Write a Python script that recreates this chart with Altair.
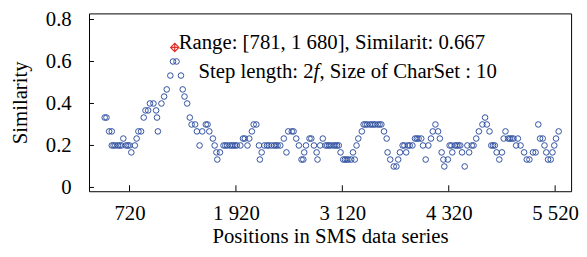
import altair as alt
import pandas as pd

# ---- data ----
positions = [
    440, 460, 490, 520, 520, 540, 560, 590, 610, 630,
    650, 680, 700, 720, 740, 780, 800, 820, 850, 880,
    900, 930, 950, 990, 1020, 1030, 1040, 1080, 1110, 1140,
    1180, 1210, 1250, 1300, 1320, 1340, 1370, 1400, 1420, 1460,
    1480, 1510, 1540, 1580, 1600, 1620, 1660, 1680, 1700, 1710,
    1740, 1780, 1800, 1820, 1850, 1870, 1890, 1910, 1930, 1970,
    2000, 2020, 2050, 2070, 2100, 2120, 2150, 2180, 2190, 2210,
    2240, 2270, 2290, 2320, 2350, 2370, 2390, 2420, 2460, 2490,
    2510, 2550, 2570, 2600, 2630, 2660, 2680, 2690, 2710, 2750,
    2770, 2800, 2830, 2840, 2870, 2900, 2930, 2950, 2970, 2990,
    3020, 3040, 3060, 3080, 3100, 3130, 3150, 3170, 3190, 3220,
    3240, 3260, 3280, 3300, 3340, 3360, 3380, 3400, 3430, 3450,
    3470, 3490, 3520, 3540, 3560, 3590, 3620, 3630, 3660, 3700,
    3730, 3750, 3770, 3800, 3820, 3840, 3860, 3880, 3910, 3940,
    3960, 3980, 4010, 4030, 4060, 4090, 4120, 4140, 4170, 4200,
    4220, 4240, 4260, 4270, 4310, 4330, 4350, 4360, 4390, 4410,
    4430, 4450, 4470, 4500, 4530, 4550, 4580, 4600, 4630, 4660,
    4700, 4730, 4750, 4780, 4800, 4820, 4840, 4860, 4890, 4920,
    4940, 4960, 4990, 5010, 5030, 5050, 5080, 5100, 5130, 5170,
    5200, 5230, 5270, 5300, 5330, 5350, 5380, 5400, 5420, 5440,
    5470, 5490, 5510, 5530, 5560,
]
similarity = [
    .333, .333, .267, .267, .2, .2, .2, .2, .2, .2,
    .233, .2, .2, .2, .167, .2, .233, .267, .267, .333,
    .367, .367, .4, .4, .367, .333, .267, .4, .433, .467,
    .533, .6, .6, .533, .467, .433, .4, .333, .3, .3,
    .267, .2, .267, .3, .3, .267, .233, .2, .167, .133,
    .167, .2, .2, .2, .2, .2, .2, .2, .2, .2,
    .233, .233, .2, .233, .267, .3, .3, .2, .133, .167,
    .2, .2, .2, .2, .2, .2, .2, .2, .233, .167,
    .267, .267, .267, .233, .2, .133, .133, .167, .2, .233,
    .233, .2, .167, .133, .2, .233, .2, .2, .2, .2,
    .2, .2, .2, .2, .167, .133, .133, .133, .133, .133,
    .167, .133, .2, .233, .267, .3, .3, .3, .3, .3,
    .3, .3, .3, .3, .3, .267, .233, .167, .133, .1,
    .1, .133, .167, .2, .2, .167, .2, .2, .2, .233,
    .233, .233, .233, .2, .133, .2, .233, .267, .3, .267,
    .233, .167, .133, .1, .133, .2, .2, .167, .2, .2,
    .2, .2, .167, .1, .2, .167, .2, .2, .233, .267,
    .3, .333, .3, .267, .2, .2, .2, .167, .133, .167,
    .233, .267, .233, .233, .233, .233, .2, .233, .2, .167,
    .133, .133, .167, .167, .3, .233, .233, .2, .167, .133,
    .133, .167, .2, .233, .267,
]
peak_pos = [1230]
peak_sim = [0.667]
x_ticks = [720, 1920, 3120, 4320, 5520]
y_ticks = [0, 0.2, 0.4, 0.6, 0.8]
x_title = "Positions in SMS data series"
y_title = "Similarity"
note1 = "Range: [781, 1 680], Similarit: 0.667"
note2a = "Step length: 2"
note2b = "f"
note2c = ", Size of CharSet : 10"

df = pd.DataFrame({"pos": positions, "sim": similarity})
peak = pd.DataFrame({"pos": peak_pos, "sim": peak_sim})
xt = pd.DataFrame({"pos": x_ticks})
yt = pd.DataFrame({"sim": y_ticks})

FONT = "Liberation Serif"
FS = 21
BLUE = "#2f4fa0"
RED = "#e0302a"

xscale = alt.Scale(domain=[263, 5700], nice=False, zero=False)
yscale = alt.Scale(domain=[-0.018, 0.829], nice=False, zero=False)

xaxis = alt.Axis(
    values=x_ticks,
    labelExpr="replace(format(datum.value, ','), ',', ' ')",
    ticks=False, tickSize=0, domain=False, grid=False,
    labelFont=FONT, labelFontSize=FS, labelColor="black", labelPadding=12,
    title=x_title, titleFont=FONT, titleFontSize=FS, titleFontWeight="normal",
    titleColor="black", titlePadding=2,
)
yaxis = alt.Axis(
    values=y_ticks,
    labelExpr="datum.value == 0 ? '0' : format(datum.value, '.1f')",
    ticks=False, tickSize=0, domain=False, grid=False,
    labelFont=FONT, labelFontSize=FS, labelColor="black", labelPadding=18,
    title=y_title, titleFont=FONT, titleFontSize=FS, titleFontWeight="normal",
    titleColor="black", titlePadding=15,
)

X = alt.X("pos:Q", scale=xscale, axis=xaxis)
Y = alt.Y("sim:Q", scale=yscale, axis=yaxis)

points = alt.Chart(df).mark_point(
    shape="circle", filled=False, size=32, strokeWidth=1, color=BLUE, opacity=1
).encode(x=X, y=Y)

marker = alt.Chart(peak).mark_point(
    shape="M0,-1L1,0L0,1L-1,0ZM-1,0L1,0M0,-1L0,1",
    filled=False, size=70, strokeWidth=1.2, color=RED, opacity=1,
).encode(x=X, y=Y)

ytick_marks = alt.Chart(yt).mark_rule(color="black", strokeWidth=1).encode(
    y=Y, x=alt.value(0), x2=alt.value(5),
)
xtick_marks = alt.Chart(xt).mark_rule(color="black", strokeWidth=1).encode(
    x=X, y=alt.value(180), y2=alt.value(174),
)

def note(text, dx, dy, style="normal"):
    return alt.Chart(peak).mark_text(
        align="left", baseline="alphabetic", font=FONT, fontSize=FS,
        fontStyle=style, color="black", dx=dx, dy=dy,
    ).encode(x=X, y=Y, text=alt.value(text))

w2a = 116.5
chart = alt.layer(
    points, marker, ytick_marks, xtick_marks,
    note(note1, 4, 2),
    note(note2a, 24, 31),
    note(note2b, 24 + w2a, 31, "italic"),
    note(note2c, 24 + w2a + 6, 31),
).properties(
    width=488, height=180,
    autosize=alt.AutoSizeParams(type="none"),
    padding={"left": 82, "top": 4, "right": 8, "bottom": 57},
    background="white",
).configure_view(stroke="black", strokeWidth=1)

chart.save("out.html", embed_options={"renderer": "svg", "actions": False})
